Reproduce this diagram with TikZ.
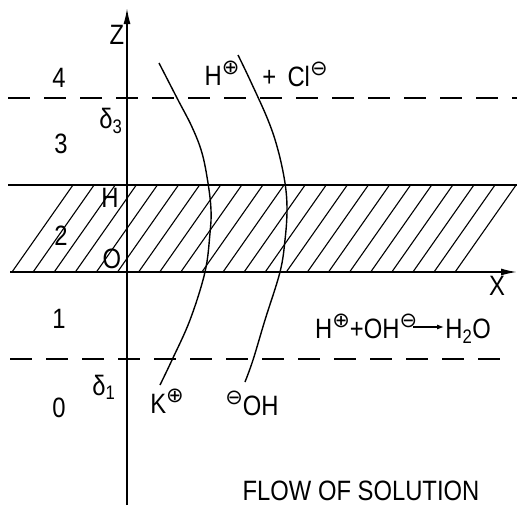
\documentclass[tikz,border=0pt]{standalone}
\usepackage{fontspec}
\setmainfont{Liberation Sans}[FakeStretch=0.85]
\newfontfamily\chgfont{DejaVu Sans}
\usetikzlibrary{arrows.meta}
\newcommand{\figfont}{\fontsize{28}{32}\selectfont}
\newcommand{\chgp}{\raisebox{11pt}{\chgfont\fontsize{21}{21}\selectfont ⊕}}
\newcommand{\chgm}{\raisebox{11pt}{\chgfont\fontsize{21}{21}\selectfont ⊖}}
\begin{document}
\begin{tikzpicture}[
        x=1pt, y=-1pt,
        every node/.style={font=\figfont, inner sep=0pt, anchor=base},
        axis/.style={draw, line width=1.6pt, -{Latex[length=16pt,width=7pt]}},
        film/.style={draw, line width=1.3pt},
        layer/.style={draw, line width=1.3pt, dash pattern=on 22pt off 14pt},
        hatch/.style={draw, line width=1.1pt},
        ion/.style={draw, line width=1.4pt},
        rxarrow/.style={draw, line width=1.2pt, -{Latex[length=7pt,width=5pt]}},
    ]
    \useasboundingbox (0,0) rectangle (517,506);
    % hatched film
    \foreach \k in {0,...,21}
        \draw[hatch] (12+21.1*\k,272) -- (73+21.1*\k,185);
    \draw[film] (8,185) -- (517,185);
    % boundary layers
    \draw[layer] (8,98) -- (517,98);
    \draw[layer] (10,359) -- (505,359);
    % axes
    \coordinate (xstart) at (10,272);
    \coordinate (xend) at (517,272);
    \coordinate (zstart) at (127,505);
    \coordinate (zend) at (127,8);
    \draw[axis] (xstart) -- (xend);
    \draw[axis] (zstart) -- (zend);
    % ion paths
    \draw[ion] plot[smooth, tension=0.6] coordinates {(159,63) (177,98) (192,127) (202,153) (208,183) (211,210) (210,233) (205,272) (190,320) (172,360) (160,385)};
    \draw[ion] plot[smooth, tension=0.6] coordinates {(238,55) (250,80) (268,120) (278,150) (285,183) (287,210) (285,240) (280,272) (265,320) (253,360) (245,382)};
    % labels
    \node (zlab) at (117,45) {Z};
    \node (xlab) at (497,295) {X};
    \node (r4) at (59,87) {4};
    \node (r3) at (61,153) {3};
    \node (r2) at (61,245) {2};
    \node (r1) at (59,328) {1};
    \node (r0) at (59,417) {0};
    \node (delta3) at (111,128) {δ\textsubscript{3}};
    \node (hlab) at (110,207) {H};
    \node (olab) at (112,268) {O};
    \node (delta1) at (104,395) {δ\textsubscript{1}};
    \node (kplus) at (167,413) {K\chgp};
    \node (ohminus) at (252,415) {\chgm OH};
    \node (hplus) at (222,85) {H\chgp};
    \node (clminus) at (295,86) {+\, Cl\chgm};
    \node[anchor=base west] (rxleft) at (315,338) {H\chgp+OH\chgm};
    \node[anchor=base east] (rxright) at (491,338) {H\textsubscript{2}O};
    \draw[rxarrow] ([xshift=-4pt,yshift=11pt]rxleft.base east) -- ([xshift=-1pt,yshift=11pt]rxright.base west);
    \node (flow) at (361,500) {FLOW OF SOLUTION};
\end{tikzpicture}
\end{document}
